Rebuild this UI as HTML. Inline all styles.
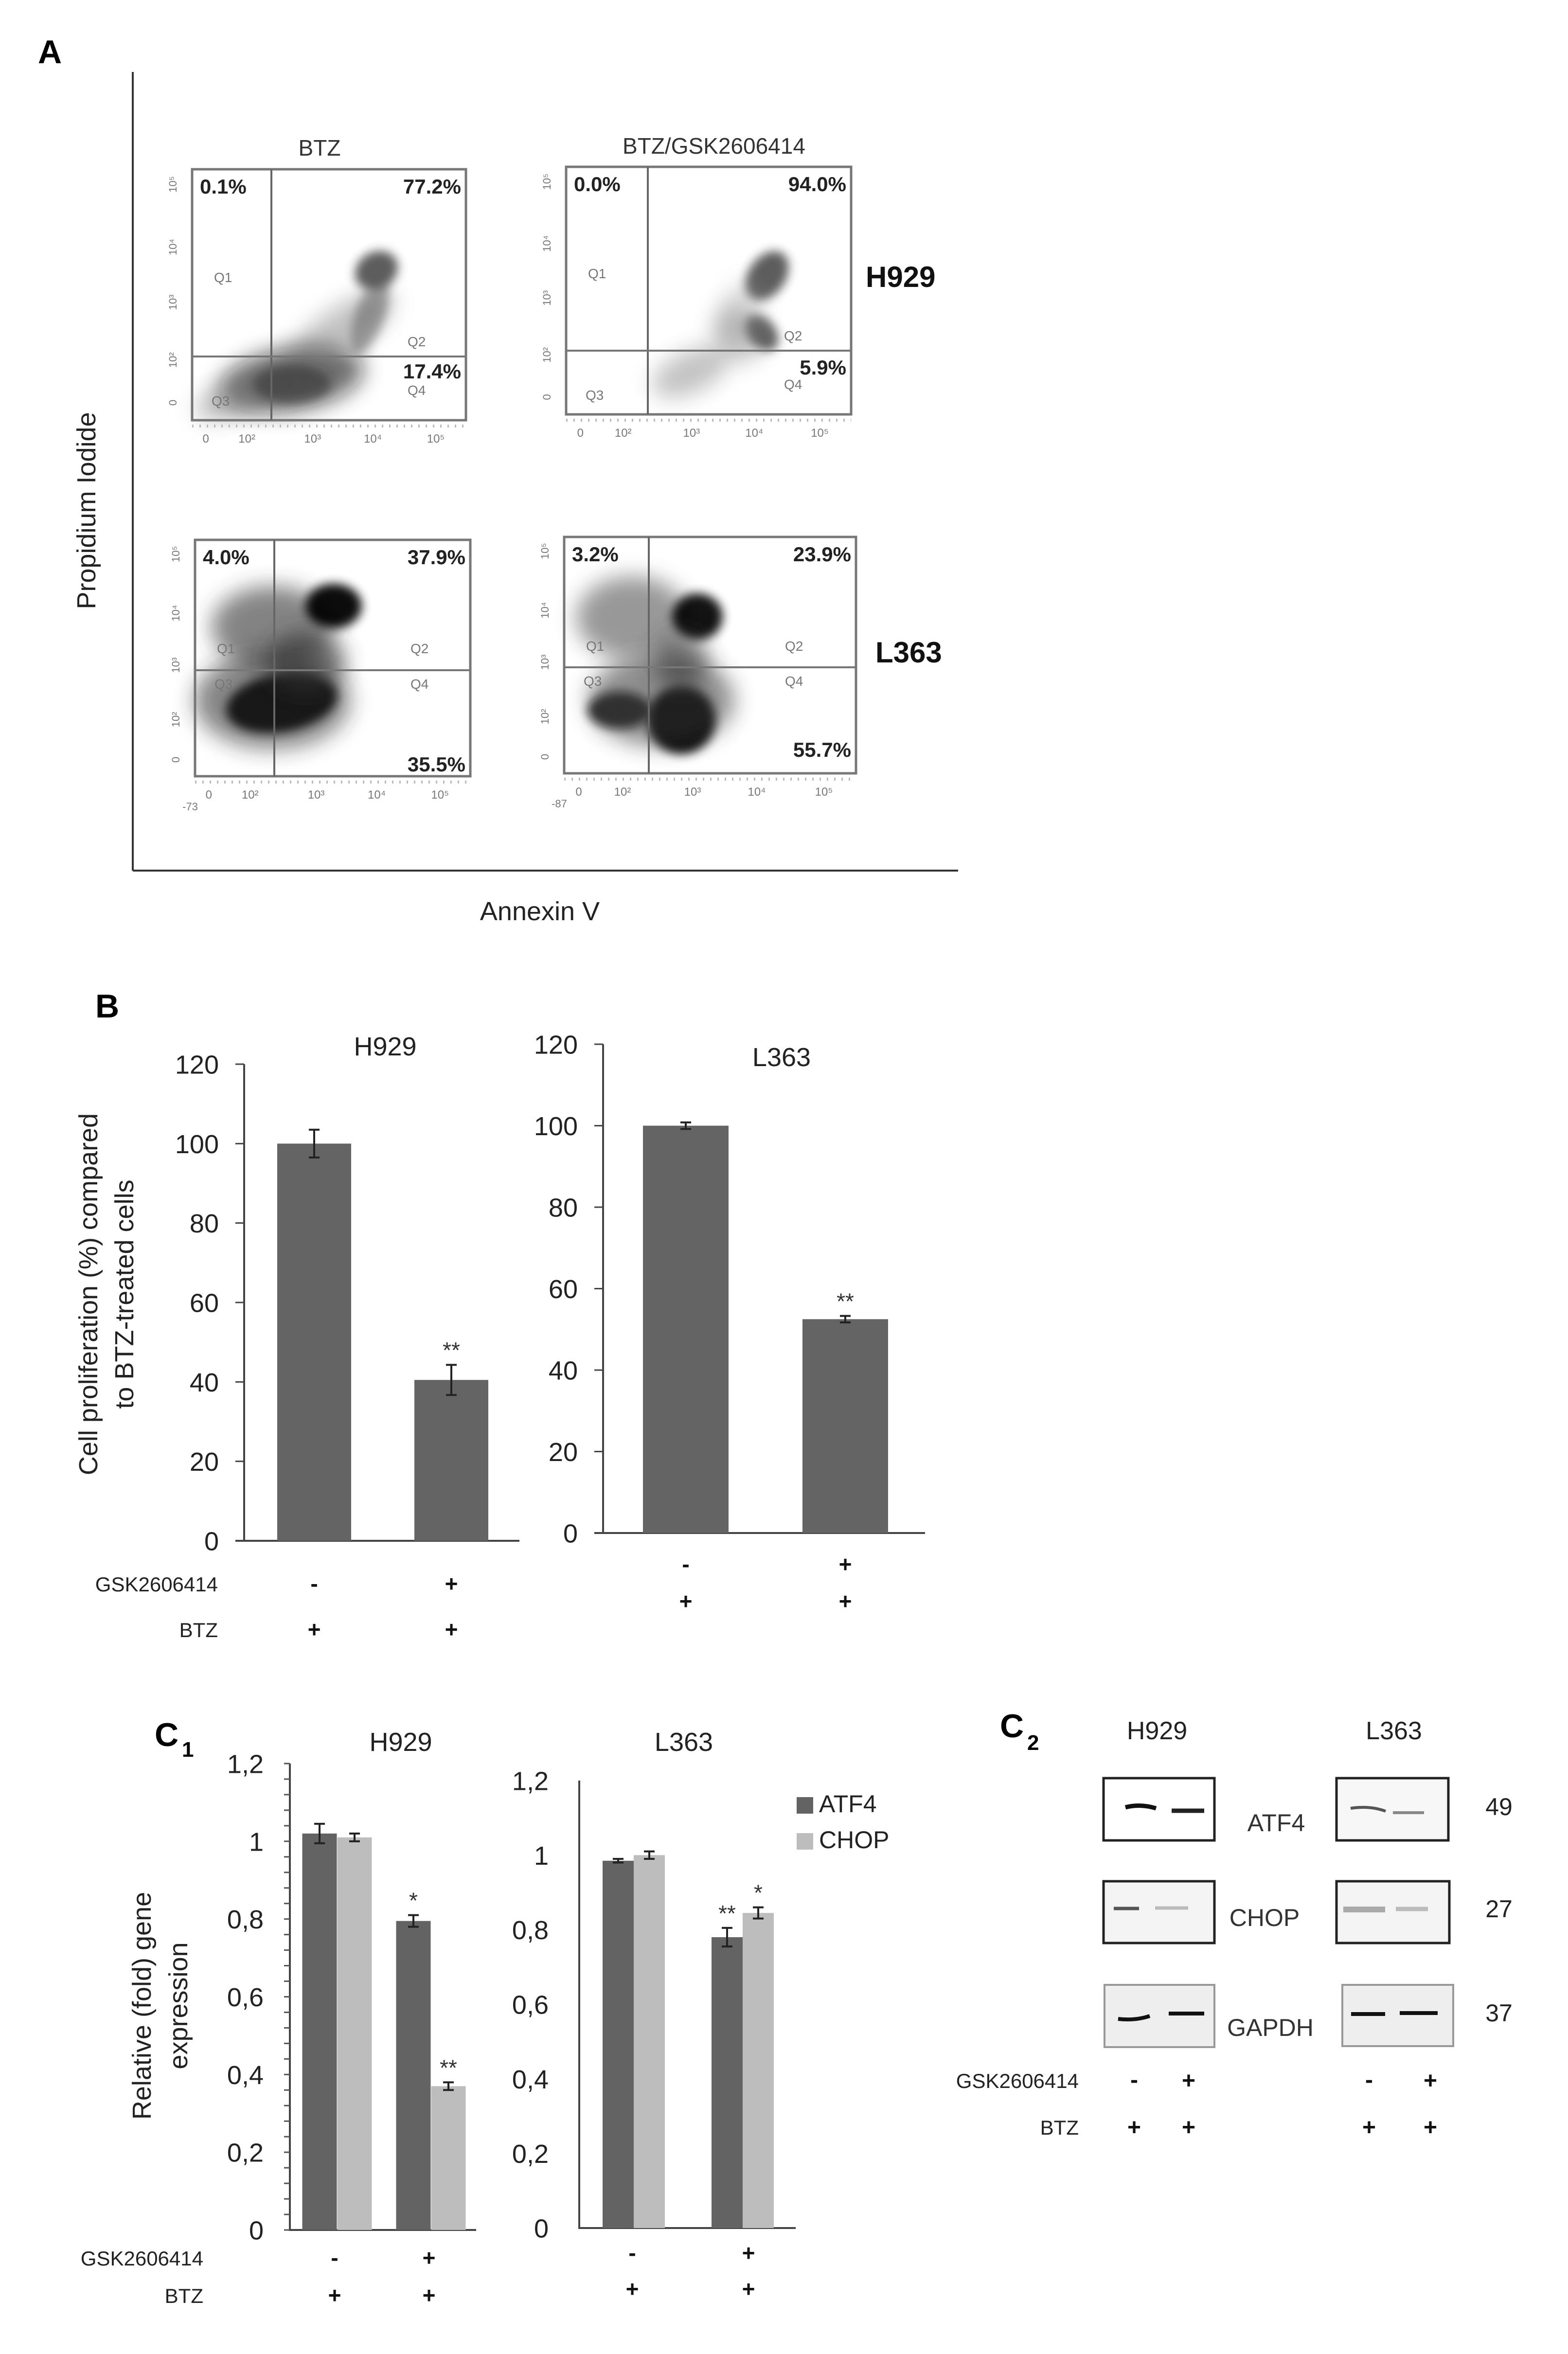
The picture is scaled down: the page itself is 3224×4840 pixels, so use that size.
<!DOCTYPE html>
<html><head><meta charset="utf-8">
<style>
html,body{margin:0;padding:0;background:#fff;}
svg{display:block;font-family:"Liberation Sans",sans-serif;}
</style></head>
<body>
<svg id="fig" xmlns="http://www.w3.org/2000/svg" width="3224" height="4840" viewBox="0 0 3224 4840">
<defs>
<filter id="b1" x="-50%" y="-50%" width="200%" height="200%"><feGaussianBlur stdDeviation="10"/></filter>
<filter id="b2" x="-50%" y="-50%" width="200%" height="200%"><feGaussianBlur stdDeviation="22"/></filter>
</defs>
<rect width="3224" height="4840" fill="#fff"/>

<!-- PANEL A -->
<g>
<text x="78" y="130" font-size="68" font-weight="bold">A</text>
<line x1="273" y1="148" x2="273" y2="1790" stroke="#333" stroke-width="4"/>
<line x1="273" y1="1790" x2="1970" y2="1790" stroke="#333" stroke-width="4"/>
<text transform="translate(196,1050) rotate(-90)" text-anchor="middle" font-size="54" fill="#222">Propidium Iodide</text>
<text x="1110" y="1892" text-anchor="middle" font-size="54" fill="#222">Annexin V</text>
<text x="657" y="320" text-anchor="middle" font-size="46" fill="#333">BTZ</text>
<text x="1468" y="316" text-anchor="middle" font-size="46" fill="#333">BTZ/GSK2606414</text>
<text x="1780" y="590" font-size="60" font-weight="bold" fill="#111">H929</text>
<text x="1800" y="1362" font-size="60" font-weight="bold" fill="#111">L363</text>
</g>
<g id="flow"></g>

<!-- PANEL B -->
<text x="196" y="2092" font-size="68" font-weight="bold">B</text>
<text x="792" y="2170" text-anchor="middle" font-size="54" fill="#222">H929</text>
<text x="1607" y="2192" text-anchor="middle" font-size="54" fill="#222">L363</text>
<text transform="translate(200,2661) rotate(-90)" text-anchor="middle" font-size="54" fill="#222">Cell proliferation (%) compared</text>
<text transform="translate(274,2661) rotate(-90)" text-anchor="middle" font-size="54" fill="#222">to BTZ-treated cells</text>
<g id="chartB"></g>

<!-- PANEL C1 -->
<text x="318" y="3590" font-size="68" font-weight="bold">C</text>
<text x="374" y="3612" font-size="44" font-weight="bold">1</text>
<text x="824" y="3600" text-anchor="middle" font-size="54" fill="#222">H929</text>
<text x="1406" y="3600" text-anchor="middle" font-size="54" fill="#222">L363</text>
<text transform="translate(310,4124) rotate(-90)" text-anchor="middle" font-size="54" fill="#222">Relative (fold) gene</text>
<text transform="translate(385,4124) rotate(-90)" text-anchor="middle" font-size="54" fill="#222">expression</text>
<g id="chartC"></g>
<g>
<rect x="1638" y="3695" width="34" height="34" fill="#636363"/>
<text x="1684" y="3726" font-size="50" fill="#222">ATF4</text>
<rect x="1638" y="3769" width="34" height="34" fill="#bdbdbd"/>
<text x="1684" y="3800" font-size="50" fill="#222">CHOP</text>
</g>

<!-- PANEL C2 -->
<g>
<text x="2056" y="3572" font-size="68" font-weight="bold">C</text>
<text x="2112" y="3598" font-size="44" font-weight="bold">2</text>
<text x="2379" y="3576" text-anchor="middle" font-size="52" fill="#222">H929</text>
<text x="2866" y="3576" text-anchor="middle" font-size="52" fill="#222">L363</text>

<rect x="2269" y="3656" width="228" height="128" fill="#fff" stroke="#222" stroke-width="5"/>
<path d="M2314 3716 q30 -8 63 2" stroke="#111" stroke-width="9" fill="none"/>
<path d="M2409 3723 h67" stroke="#222" stroke-width="9" fill="none"/>
<rect x="2748" y="3656" width="230" height="128" fill="#f7f7f7" stroke="#222" stroke-width="5"/>
<path d="M2777 3718 q40 -6 72 6" stroke="#555" stroke-width="6" fill="none"/>
<path d="M2864 3727 h64" stroke="#888" stroke-width="6" fill="none"/>
<text x="2624" y="3765" text-anchor="middle" font-size="50" fill="#333">ATF4</text>
<text x="3082" y="3732" text-anchor="middle" font-size="50" fill="#222">49</text>

<rect x="2269" y="3868" width="228" height="127" fill="#f4f4f4" stroke="#222" stroke-width="5"/>
<path d="M2290 3924 h52" stroke="#555" stroke-width="7" fill="none"/>
<path d="M2375 3923 h68" stroke="#bbb" stroke-width="7" fill="none"/>
<rect x="2748" y="3868" width="232" height="127" fill="#f4f4f4" stroke="#222" stroke-width="5"/>
<path d="M2762 3926 h86" stroke="#aaa" stroke-width="12" fill="none"/>
<path d="M2870 3925 h66" stroke="#bbb" stroke-width="9" fill="none"/>
<text x="2600" y="3960" text-anchor="middle" font-size="50" fill="#333">CHOP</text>
<text x="3082" y="3942" text-anchor="middle" font-size="50" fill="#222">27</text>

<rect x="2271" y="4081" width="226" height="128" fill="#eeeeee" stroke="#999" stroke-width="4"/>
<path d="M2299 4151 q35 4 65 -6" stroke="#111" stroke-width="8" fill="none"/>
<path d="M2403 4140 h73" stroke="#111" stroke-width="8" fill="none"/>
<rect x="2760" y="4081" width="228" height="126" fill="#eeeeee" stroke="#999" stroke-width="4"/>
<path d="M2778 4141 h70" stroke="#111" stroke-width="8" fill="none"/>
<path d="M2878 4139 h78" stroke="#111" stroke-width="8" fill="none"/>
<text x="2612" y="4186" text-anchor="middle" font-size="50" fill="#333">GAPDH</text>
<text x="3082" y="4156" text-anchor="middle" font-size="50" fill="#222">37</text>

<text x="2218" y="4293" text-anchor="end" font-size="42" fill="#222">GSK2606414</text>
<text x="2218" y="4389" text-anchor="end" font-size="42" fill="#222">BTZ</text>
<g font-size="48" font-weight="bold" text-anchor="middle" fill="#111">
<text x="2332" y="4292">-</text><text x="2444" y="4294">+</text><text x="2815" y="4292">-</text><text x="2941" y="4294">+</text>
<text x="2332" y="4390">+</text><text x="2444" y="4390">+</text><text x="2815" y="4390">+</text><text x="2941" y="4390">+</text>
</g>
</g>

<script>
// ---------- Panel B data ----------
const bCategories = ["BTZ", "BTZ+GSK2606414"];
const bH929Values = [100, 40.5];
const bH929Errors = [3.5, 3.8];
const bH929Stars = ["", "**"];
const bL363Values = [100, 52.5];
const bL363Errors = [0.8, 0.8];
const bL363Stars = ["", "**"];
const bTicks = [0, 20, 40, 60, 80, 100, 120];
const bTickLabels = ["0", "20", "40", "60", "80", "100", "120"];
const gskMarks = ["-", "+"];
const btzMarks = ["+", "+"];

// ---------- Panel C1 data ----------
const cH929Atf4 = [1.02, 0.795];
const cH929Atf4Err = [0.025, 0.015];
const cH929Chop = [1.01, 0.37];
const cH929ChopErr = [0.01, 0.01];
const cH929Atf4Stars = ["", "*"];
const cH929ChopStars = ["", "**"];
const cL363Atf4 = [0.985, 0.78];
const cL363Atf4Err = [0.005, 0.025];
const cL363Chop = [1.0, 0.845];
const cL363ChopErr = [0.01, 0.015];
const cL363Atf4Stars = ["", "**"];
const cL363ChopStars = ["", "*"];
const cTicks = [0, 0.2, 0.4, 0.6, 0.8, 1.0, 1.2];
const cTickLabels = ["0", "0,2", "0,4", "0,6", "0,8", "1", "1,2"];

const NS = "http://www.w3.org/2000/svg";
function mk(tag, attrs, parent, txt) {
  const e = document.createElementNS(NS, tag);
  for (const k in attrs) e.setAttribute(k, attrs[k]);
  if (txt !== undefined) e.textContent = txt;
  parent.appendChild(e);
  return e;
}

function scaleY(ax, v) { return ax.y0 + (ax.yMax - ax.y0) * (v / ax.max); }

function drawAxes(g, ax, ticks, labels, fs, minorStep) {
  let a = mk("line", {x1: ax.x0, y1: scaleY(ax, ax.max), x2: ax.x0, y2: ax.y0 + 2, stroke: "#444", "stroke-width": 4}, g);
  
  
  let b = mk("line", {x1: ax.x0 - (ax.tick ? 18 : 0), y1: ax.y0, x2: ax.xEnd, y2: ax.y0, stroke: "#444", "stroke-width": 4}, g);
  
  
  ticks.forEach((t, i) => {
    const y = scaleY(ax, t);
    if (ax.tick) {
      let tk = mk("line", {x1: ax.x0 - 18, y1: y, x2: ax.x0, y2: y, stroke: "#444", "stroke-width": 3}, g);
      
      
    }
    let tl = mk("text", {x: ax.labelX, y: y + fs * 0.36, "text-anchor": "end", "font-size": fs, fill: "#222"}, g, labels[i]);
    
    
  });
  if (minorStep) {
    for (let v = 0; v <= ax.max + 1e-9; v += minorStep) {
      const y = scaleY(ax, v);
      let mt = mk("line", {x1: ax.x0 - 12, y1: y, x2: ax.x0, y2: y, stroke: "#555", "stroke-width": 3}, g);
      
      
    }
  }
}

function drawBar(g, ax, cx, w, v, err, color, star, name) {
  const yT = scaleY(ax, v);
  let r = mk("rect", {x: cx - w / 2, y: yT, width: w, height: ax.y0 - yT, fill: color}, g);
  
  
  const y1 = scaleY(ax, v + err), y2 = scaleY(ax, v - err);
  let e = mk("path", {d: `M${cx} ${y1}V${y2}M${cx - 11} ${y1}h22M${cx - 11} ${y2}h22`, stroke: "#222", "stroke-width": 4, fill: "none"}, g);
  
  
  if (star) {
    let s = mk("text", {x: cx, y: y1 - 14, "text-anchor": "middle", "font-size": 46, fill: "#333"}, g, star);
    
    
  }
}

function drawMarks(g, xs, yG, yB, fs) {
  xs.forEach((x, i) => {
    let m1 = mk("text", {x: x, y: yG, "text-anchor": "middle", "font-size": fs, "font-weight": "bold", fill: "#111"}, g, gskMarks[i]);
    
    
    let m2 = mk("text", {x: x, y: yB, "text-anchor": "middle", "font-size": fs, "font-weight": "bold", fill: "#111"}, g, btzMarks[i]);
    
    
  });
}

// ----- Panel B -----
const gB = document.getElementById("chartB");
const axB1 = {x0: 502, y0: 3168, yMax: 2188, max: 120, xEnd: 1068, labelX: 450, tick: true};
const axB2 = {x0: 1240, y0: 3152, yMax: 2147, max: 120, xEnd: 1902, labelX: 1188, tick: true};
drawAxes(gB, axB1, bTicks, bTickLabels, 54);
drawAxes(gB, axB2, bTicks, bTickLabels, 54);
const bX1 = [646, 928], bX2 = [1410, 1738];
bCategories.forEach((c, i) => {
  drawBar(gB, axB1, bX1[i], 152, bH929Values[i], bH929Errors[i], "#646464", bH929Stars[i], "b-h929-bar-" + (i + 1));
  drawBar(gB, axB2, bX2[i], 176, bL363Values[i], bL363Errors[i], "#646464", bL363Stars[i], "b-l363-bar-" + (i + 1));
});
drawMarks(gB, bX1, 3272, 3366, 46);
drawMarks(gB, bX2, 3232, 3308, 46);
let lg = mk("text", {x: 448, y: 3272, "text-anchor": "end", "font-size": 42, fill: "#222"}, gB, "GSK2606414");


let lb = mk("text", {x: 448, y: 3366, "text-anchor": "end", "font-size": 42, fill: "#222"}, gB, "BTZ");



// ----- Panel C1 -----
const gC = document.getElementById("chartC");
const axC1 = {x0: 596, y0: 4585, yMax: 3626, max: 1.2, xEnd: 979, labelX: 542, tick: false};
const axC2 = {x0: 1191, y0: 4581, yMax: 3661, max: 1.2, xEnd: 1636, labelX: 1128, tick: false};
drawAxes(gC, axC1, cTicks, cTickLabels, 54, 0.04);
drawAxes(gC, axC2, cTicks, cTickLabels, 54);
const cG1 = [693, 886], cG2 = [1303, 1527];
[0, 1].forEach(i => {
  drawBar(gC, axC1, cG1[i] - 36, 71, cH929Atf4[i], cH929Atf4Err[i], "#636363", cH929Atf4Stars[i], "c1-h929-atf4-bar-" + (i + 1));
  drawBar(gC, axC1, cG1[i] + 36, 71, cH929Chop[i], cH929ChopErr[i], "#bdbdbd", cH929ChopStars[i], "c1-h929-chop-bar-" + (i + 1));
  drawBar(gC, axC2, cG2[i] - 32, 64, cL363Atf4[i], cL363Atf4Err[i], "#636363", cL363Atf4Stars[i], "c1-l363-atf4-bar-" + (i + 1));
  drawBar(gC, axC2, cG2[i] + 32, 64, cL363Chop[i], cL363ChopErr[i], "#bdbdbd", cL363ChopStars[i], "c1-l363-chop-bar-" + (i + 1));
});
drawMarks(gC, [688, 882], 4658, 4735, 46);
drawMarks(gC, [1300, 1539], 4648, 4722, 46);
let cg = mk("text", {x: 418, y: 4658, "text-anchor": "end", "font-size": 42, fill: "#222"}, gC, "GSK2606414");


let cb = mk("text", {x: 418, y: 4735, "text-anchor": "end", "font-size": 42, fill: "#222"}, gC, "BTZ");



// ----- Panel A flow plots -----
const flowNames = ["h929-btz", "h929-btz-gsk", "l363-btz", "l363-btz-gsk"];
const flowQ1 = ["0.1%", "0.0%", "4.0%", "3.2%"];
const flowQ2 = ["77.2%", "94.0%", "37.9%", "23.9%"];
const flowQ4 = ["17.4%", "5.9%", "35.5%", "55.7%"];
const gF = document.getElementById("flow");
const boxes = [
  {x: 395, y: 348, w: 563, h: 516, gx: 558, gy: 733, q4y: 778, q4lab: 812, q2lab: 712, q1lab: 580, bot: false, neg: ""},
  {x: 1164, y: 343, w: 586, h: 509, gx: 1332, gy: 721, q4y: 770, q4lab: 800, q2lab: 700, q1lab: 572, bot: false, neg: ""},
  {x: 401, y: 1110, w: 566, h: 486, gx: 564, gy: 1378, q4y: 1586, q4lab: 1416, q2lab: 1343, q1lab: 1343, bot: true, neg: "-73"},
  {x: 1160, y: 1104, w: 600, h: 486, gx: 1334, gy: 1372, q4y: 1556, q4lab: 1410, q2lab: 1338, q1lab: 1338, bot: true, neg: "-87"}
];
// clouds: [cx, cy, rx, ry, rot, color, opacity, blur]
const clouds = [
  [[600, 780, 150, 65, -10, "#111", 0.6, 2], [700, 680, 130, 45, -35, "#666", 0.4, 2], [760, 650, 30, 80, 20, "#555", 0.5, 1], [774, 556, 46, 38, -30, "#555", 0.95, 1], [480, 820, 80, 35, -20, "#777", 0.5, 2], [600, 790, 80, 40, 0, "#222", 0.45, 1]],
  [[1420, 765, 85, 42, -25, "#888", 0.5, 2], [1520, 690, 50, 55, -45, "#777", 0.45, 2], [1566, 684, 28, 42, -40, "#555", 0.9, 1], [1577, 567, 38, 56, 35, "#555", 0.95, 1], [1520, 640, 40, 60, 30, "#999", 0.4, 2]],
  [[560, 1290, 125, 85, 0, "#333", 0.6, 2], [579, 1445, 115, 60, -10, "#000", 0.95, 1], [686, 1246, 58, 46, 0, "#000", 0.95, 1], [560, 1440, 160, 100, 0, "#222", 0.55, 2], [630, 1360, 80, 60, 0, "#333", 0.65, 2]],
  [[1300, 1270, 115, 85, 0, "#444", 0.55, 2], [1434, 1268, 52, 48, 0, "#000", 0.92, 1], [1401, 1480, 70, 70, 0, "#000", 0.95, 1], [1274, 1460, 65, 38, 0, "#111", 0.85, 1], [1360, 1440, 150, 95, 0, "#333", 0.55, 2], [1400, 1360, 55, 60, 0, "#333", 0.6, 2]]
];
boxes.forEach((b, i) => {
  const g = mk("g", {}, gF);
  
  
  clouds[i].forEach(c => {
    const e = mk("ellipse", {cx: c[0], cy: c[1], rx: c[2], ry: c[3], transform: `rotate(${c[4]} ${c[0]} ${c[1]})`, fill: c[5], opacity: c[6], filter: c[7] === 1 ? "url(#b1)" : "url(#b2)"}, g);
    
    
  });
  let r = mk("rect", {x: b.x, y: b.y, width: b.w, height: b.h, fill: "none", stroke: "#777", "stroke-width": 5}, g);
  
  
  let gv = mk("line", {x1: b.gx, y1: b.y, x2: b.gx, y2: b.y + b.h, stroke: "#666", "stroke-width": 4}, g);
  
  
  let gh = mk("line", {x1: b.x, y1: b.gy, x2: b.x + b.w, y2: b.gy, stroke: "#777", "stroke-width": 4}, g);
  
  
  const ty = b.y + 50;
  let p1 = mk("text", {x: b.x + 16, y: ty, "font-size": 42, "font-weight": "bold", fill: "#222"}, g, flowQ1[i]);
  
  
  let p2 = mk("text", {x: b.x + b.w - 10, y: ty, "text-anchor": "end", "font-size": 42, "font-weight": "bold", fill: "#222"}, g, flowQ2[i]);
  
  
  let p4 = mk("text", {x: b.x + b.w - 10, y: b.q4y, "text-anchor": "end", "font-size": 42, "font-weight": "bold", fill: "#222"}, g, flowQ4[i]);
  
  
  const ql = [["Q1", b.x + 45, b.q1lab], ["Q2", b.gx + 280, b.q2lab], ["Q4", b.gx + 280, b.q4lab], ["Q3", b.x + 40, b.bot ? b.q4lab : b.y + b.h - 30]];
  ql.forEach(q => {
    let t = mk("text", {x: q[1], y: q[2], "font-size": 28, fill: "#777"}, g, q[0]);
    
    
  });
  const xt = ["0", "10²", "10³", "10⁴", "10⁵"];
  const xf = [0.05, 0.2, 0.44, 0.66, 0.89];
  xt.forEach((t, k) => {
    let tt = mk("text", {x: b.x + b.w * xf[k], y: b.y + b.h + 46, "text-anchor": "middle", "font-size": 24, fill: "#777"}, g, t);
    
    
  });
  if (b.neg) {
    let nt = mk("text", {x: b.x - 10, y: b.y + b.h + 70, "text-anchor": "middle", "font-size": 22, fill: "#777"}, g, b.neg);
    
    
  }
  let tks = mk("line", {x1: b.x, y1: b.y + b.h + 12, x2: b.x + b.w, y2: b.y + b.h + 12, stroke: "#bbb", "stroke-width": 6, "stroke-dasharray": "3 12"}, g);
  
  
  const yt = ["10⁵", "10⁴", "10³", "10²", "0"];
  const yf = [0.06, 0.31, 0.53, 0.76, 0.93];
  yt.forEach((t, k) => {
    const yy = b.y + b.h * yf[k];
    let tt = mk("text", {x: b.x - 32, y: yy, "text-anchor": "middle", "font-size": 22, fill: "#777", transform: `rotate(-90 ${b.x - 32} ${yy})`}, g, t);
    
    
  });
});
</script>
</svg>
</body></html>
